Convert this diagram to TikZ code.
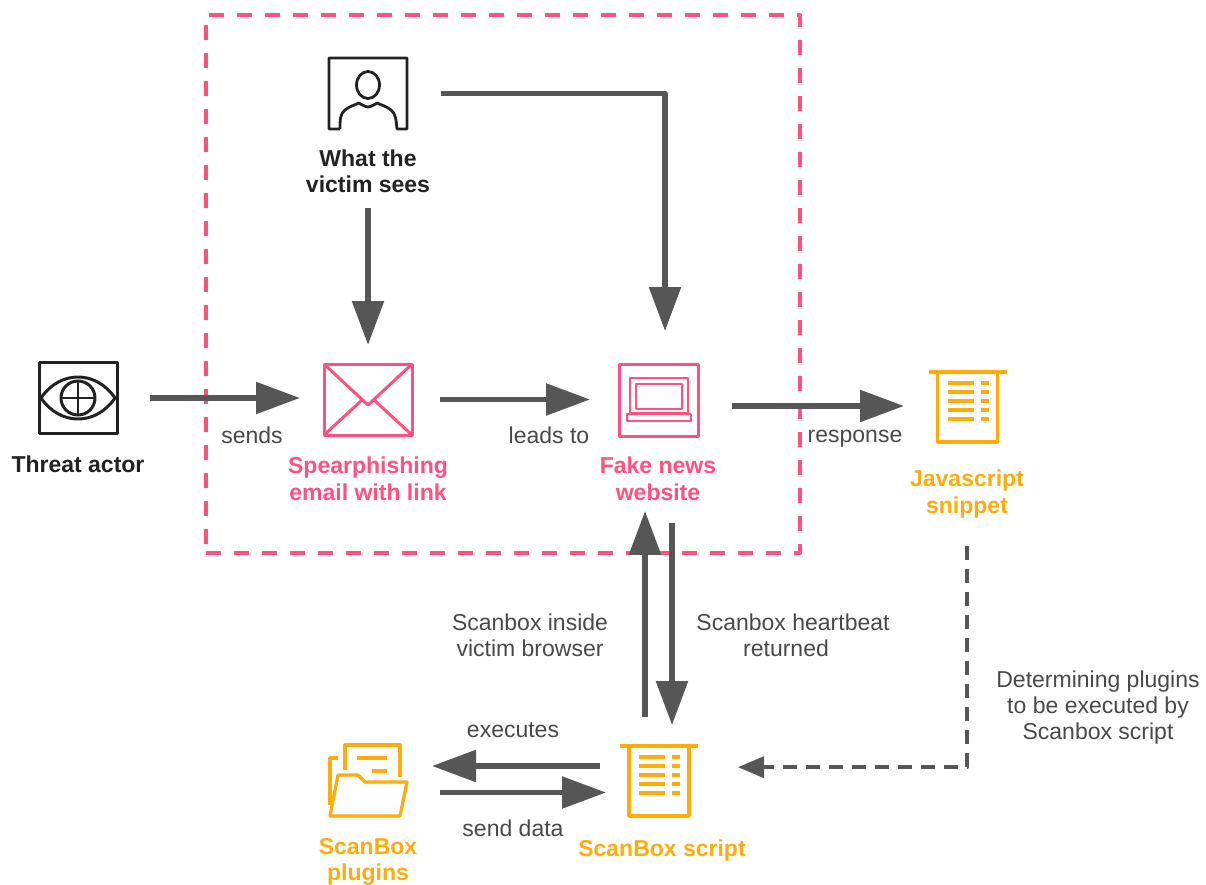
\documentclass[tikz,border=0pt]{standalone}
\usepackage{fontspec}
\setmainfont{Liberation Sans}
\usetikzlibrary{arrows.meta,calc}
\definecolor{pinkc}{HTML}{FF5080}
\definecolor{orangec}{HTML}{FFAB0A}
\definecolor{flowc}{HTML}{565656}
\definecolor{labelc}{HTML}{484848}
\definecolor{darkc}{HTML}{222222}
\tikzset{
  flow/.style={draw=flowc,line width=5.5pt,-{Triangle[length=44pt,width=31pt]}},
  dashflow/.style={draw=flowc,line width=3.5pt,dash pattern=on 14pt off 9pt,-{Triangle[length=26pt,width=21pt]}},
  iconbox/.style={minimum width=#1,inner sep=0pt,outer sep=0pt},
  lab/.style={font=\fontsize{23}{26}\selectfont,text=labelc,align=center,inner sep=0pt},
  blab/.style={font=\fontsize{23}{26.5}\selectfont\bfseries,align=center,inner sep=0pt},
  pinkline/.style={draw=pinkc,line width=3pt},
  orangeline/.style={draw=orangec,line width=3.2pt},
  darkline/.style={draw=darkc,line width=3pt},
}
\begin{document}
\begin{tikzpicture}[x=1pt,y=-1pt,line join=round]
\useasboundingbox (0,0) rectangle (1206,885);
% pink frame
\node[draw=pinkc,line width=4pt,dash pattern=on 15pt off 13pt,minimum width=594pt,minimum height=538pt,inner sep=0pt] (frame) at (503,284) {};
% icon nodes
\node[iconbox=78pt,minimum height=71pt,darkline,draw=darkc] (threat) at (78,398) {};
\node[iconbox=88pt,minimum height=71pt,pinkline] (mail) at (368,399.5) {};
\node[iconbox=79pt,minimum height=72pt,pinkline] (fake) at (658.5,400) {};
\node[iconbox=78pt,minimum height=71pt] (person) at (368,93.5) {};
\node[iconbox=79pt,minimum height=69pt] (js) at (967.5,406.5) {};
\node[iconbox=78pt,minimum height=70pt] (script) at (659,781) {};
\node[iconbox=78pt,minimum height=71pt] (folder) at (368,780) {};
% eye
\draw[darkline] (41,398) .. controls (60,370) and (96,370) .. (115,398) .. controls (96,426) and (60,426) .. (41,398) -- cycle;
\draw[darkline] (78,398) circle (17pt);
\draw[darkline,line width=2.5pt] (61,398) -- (95,398) (78,381) -- (78,415);
% mail
\draw[pinkline] (324,364) -- (368,405) -- (412,364);
\draw[pinkline] (324,435) -- (362,400) (412,435) -- (374,400);
% laptop
\draw[pinkline,line width=2.6pt] (630,413) rectangle (688,378);
\draw[pinkline,line width=2.6pt] (636,409) rectangle (682,384);
\draw[pinkline,line width=2.6pt] (627,414) rectangle (691,421);
% person
\draw[darkline,line width=2.8pt] (340,129) -- (329,129) -- (329,58) -- (407,58) -- (407,129) -- (397,129)
  .. controls (396,120) and (396,114) .. (391,110) .. controls (386,106) and (381,105) .. (377,103)
  .. controls (374,105) and (370,107) .. (368,107) .. controls (366,107) and (362,105) .. (359,103)
  .. controls (355,105) and (350,106) .. (345,110) .. controls (340,114) and (340,120) .. (340,129);
\draw[darkline,line width=2.8pt] (368,85) ellipse (11.5pt and 13.5pt);
% document icons
\foreach \ox/\oy in {967.5/372,659/746}{
  \begin{scope}[shift={(\ox,\oy)}]
    \draw[orangeline,line width=3.6pt] (-39,0) -- (39,0);
    \draw[orangeline,line width=3.6pt] (-30,0) -- (-30,70) -- (30,70) -- (30,0);
    \foreach \dy in {11,20,29,38,47}{
      \draw[orangeline] (-20,\dy) -- (6,\dy) (13,\dy) -- (21,\dy);
    }
  \end{scope}
}
% folder
\draw[orangeline] (345,770) -- (345,745) -- (400,745) -- (400,777);
\draw[orangeline] (338,758) -- (330,758) -- (330,805);
\draw[orangeline] (357,758) -- (387,758) (372,771) -- (387,771);
\draw[orangeline,fill=white] (330,816) -- (338,775) -- (358,775) -- (365,782) -- (407,782) -- (400,816) -- cycle;
% text
\node[blab,text=darkc] (threatlab) at (78,464) {Threat actor};
\node[blab,text=darkc] (victimlab) at (368,171.5) {What the\\victim sees};
\node[blab,text=pinkc] (maillab) at (368,479) {Spearphishing\\email with link};
\node[blab,text=pinkc] (fakelab) at (658,479) {Fake news\\website};
\node[blab,text=orangec] (jslab) at (967,494) {Javascript\\snippet};
\node[blab,text=orangec] (scriptlab) at (662,850.5) {ScanBox script};
\node[blab,text=orangec] (folderlab) at (368,862) {ScanBox\\plugins};
\node[lab] (sends) at (252,435) {sends};
\node[lab] (leads) at (549,435) {leads to};
\node[lab] (resp) at (855,439) {response};
\node[lab] (inside) at (530,635) {Scanbox inside\\victim browser};
\node[lab] (heart) at (793,635) {Scanbox heartbeat\\returned\hspace*{14pt}};
\node[lab] (exec) at (513,730) {executes};
\node[lab] (senddata) at (513,828) {send data};
\node[lab] (determ) at (1098,708) {Determining plugins\\to be executed by\\Scanbox script};
% connectors
\draw[flow,shorten <=33pt,shorten >=24pt] (threat.east) -- (threat.east -| mail.west);
\draw[flow,shorten <=28pt,shorten >=29pt] (mail.east) -- (mail.east -| fake.west);
\draw[flow,shorten <=34pt,shorten >=24pt] ([yshift=-6pt]fake.east) -- ([yshift=-6pt]fake.east -| js.west);
\draw[flow,shorten <=15pt,shorten >=19pt] (victimlab.south) -- (mail.north);
\draw[flow,shorten <=34pt,shorten >=33pt] (person.east) -| ([xshift=6.5pt]fake.north);
\draw[flow,shorten <=29pt,shorten >=10pt] ([xshift=-14pt]script.north) -- ([xshift=-14pt]script.north |- fakelab.south);
\draw[flow,shorten <=22pt,shorten >=21pt] ([xshift=13pt]script.north |- fakelab.south) -- ([xshift=13pt]script.north);
\draw[flow,shorten <=20pt,shorten >=25pt] ([yshift=15pt]script.west) -- ([yshift=15pt]script.west -| folder.east);
\draw[flow,shorten <=33pt,shorten >=14pt] ([yshift=-12.5pt]folder.east) -- ([yshift=-12.5pt]folder.east -| script.west);
\coordinate (dashstart) at ($(jslab.south)+(0pt,-28pt)$);
\coordinate (dashcorner) at ($(jslab.south)+(0pt,-249pt)$);
\draw[dashflow,shorten >=40pt] (dashstart) -- (dashcorner) -- (dashcorner -| script.east);
\end{tikzpicture}
\end{document}
